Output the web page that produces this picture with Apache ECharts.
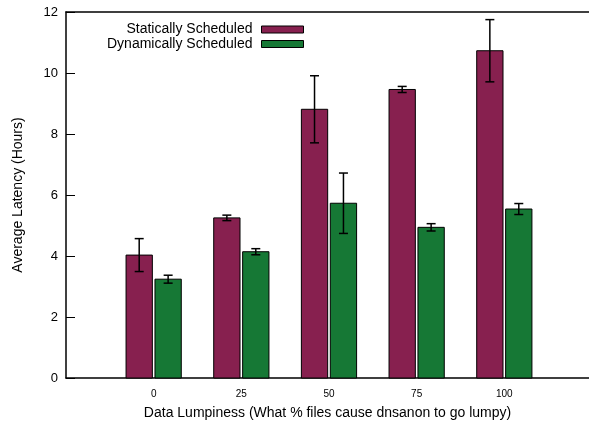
<!DOCTYPE html>
<html><head><meta charset="utf-8">
<script src="https://cdn.jsdelivr.net/npm/echarts@6/dist/echarts.min.js"></script>
<style>html,body{margin:0;padding:0;background:#fff;overflow:hidden}#c{width:589px;height:421px}</style>
</head><body><div id="c"></div>
<script>
const categories = ['0', '25', '50', '75', '100'];
const staticVals = [4.03, 5.25, 8.81, 9.46, 10.73];
const staticErr = [0.54, 0.09, 1.10, 0.10, 1.02];
const dynamicVals = [3.24, 4.14, 5.73, 4.94, 5.54];
const dynamicErr = [0.13, 0.10, 0.99, 0.12, 0.18];
const yTicks = [0, 2, 4, 6, 8, 10, 12];

const FONT = 'Liberation Sans, Arial, sans-serif';
const chart = echarts.init(document.getElementById('c'), null, {renderer: 'canvas', width: 589, height: 421});

function makeRender(offset, color) {
  return function (params, api) {
    const x = api.value(0), v = api.value(1), e = api.value(2);
    const w = api.size([0.3, 0])[0];
    const base = api.coord([x + offset, 0]);
    const top = api.coord([x + offset, v]);
    const hi = api.coord([x + offset, v + e]);
    const lo = api.coord([x + offset, v - e]);
    const cx = base[0];
    const cap = 4.5;
    return {
      type: 'group',
      children: [
        {type: 'rect', shape: {x: cx - w / 2, y: top[1], width: w, height: base[1] - top[1]},
         style: {fill: color, stroke: '#000', lineWidth: 1}},
        {type: 'line', shape: {x1: cx, y1: hi[1], x2: cx, y2: lo[1]}, style: {stroke: '#000', lineWidth: 1.5}},
        {type: 'line', shape: {x1: cx - cap, y1: hi[1], x2: cx + cap, y2: hi[1]}, style: {stroke: '#000', lineWidth: 1.5}},
        {type: 'line', shape: {x1: cx - cap, y1: lo[1], x2: cx + cap, y2: lo[1]}, style: {stroke: '#000', lineWidth: 1.5}}
      ]
    };
  };
}

const C1 = '#87204f', C2 = '#167835';
const legendBase = {
  orient: 'vertical', right: 285, align: 'right', itemWidth: 42, itemHeight: 7,
  itemGap: 0, icon: 'rect', padding: 0,
  textStyle: {fontFamily: FONT, fontSize: 14, lineHeight: 14, color: '#000', padding: [0, 4, 0, 0]}
};

chart.setOption({
  animation: false,
  textStyle: {fontFamily: FONT},
  grid: {left: 66, top: 12, right: 0, bottom: 43, containLabel: false, outerBoundsMode: 'none'},
  legend: [
    Object.assign({}, legendBase, {top: 22.5, data: [{name: 'Statically Scheduled', itemStyle: {color: C1, borderColor: '#000', borderWidth: 1}}]}),
    Object.assign({}, legendBase, {top: 37, data: [{name: 'Dynamically Scheduled', itemStyle: {color: C2, borderColor: '#000', borderWidth: 1}}]})
  ],
  xAxis: [{
    type: 'value', min: -1, max: 4.966, interval: 1,
    axisLine: {show: true, onZero: false, lineStyle: {color: '#000', width: 1.5}},
    axisTick: {show: false}, splitLine: {show: false},
    axisLabel: {fontFamily: FONT, fontSize: 10, color: '#000', margin: 11, showMaxLabel: false,
      formatter: v => (categories[v] !== undefined ? categories[v] : '')},
    name: 'Data Lumpiness (What % files cause dnsanon to go lumpy)', nameLocation: 'middle', nameGap: 28,
    nameTextStyle: {fontFamily: FONT, fontSize: 14, color: '#000'}
  }, {
    type: 'value', position: 'top', min: -1, max: 4.966,
    axisLine: {show: true, onZero: false, lineStyle: {color: '#000', width: 1.5}},
    axisTick: {show: false}, axisLabel: {show: false}, splitLine: {show: false}
  }],
  yAxis: {
    type: 'value', min: yTicks[0], max: yTicks[yTicks.length - 1], interval: 2,
    axisLine: {show: true, onZero: false, lineStyle: {color: '#000', width: 1.5}},
    axisTick: {show: true, inside: true, length: 9, lineStyle: {color: '#000', width: 1}},
    splitLine: {show: false},
    axisLabel: {fontFamily: FONT, fontSize: 13, color: '#000', margin: 8},
    name: 'Average Latency (Hours)', nameLocation: 'middle', nameGap: 41,
    nameTextStyle: {fontFamily: FONT, fontSize: 14, color: '#000'}
  },
  series: [
    {name: 'Statically Scheduled', type: 'custom', itemStyle: {color: C1},
     renderItem: makeRender(-0.165, C1),
     data: staticVals.map((v, i) => [i, v, staticErr[i]])},
    {name: 'Dynamically Scheduled', type: 'custom', itemStyle: {color: C2},
     renderItem: makeRender(0.165, C2),
     data: dynamicVals.map((v, i) => [i, v, dynamicErr[i]])}
  ]
});
</script></body></html>
